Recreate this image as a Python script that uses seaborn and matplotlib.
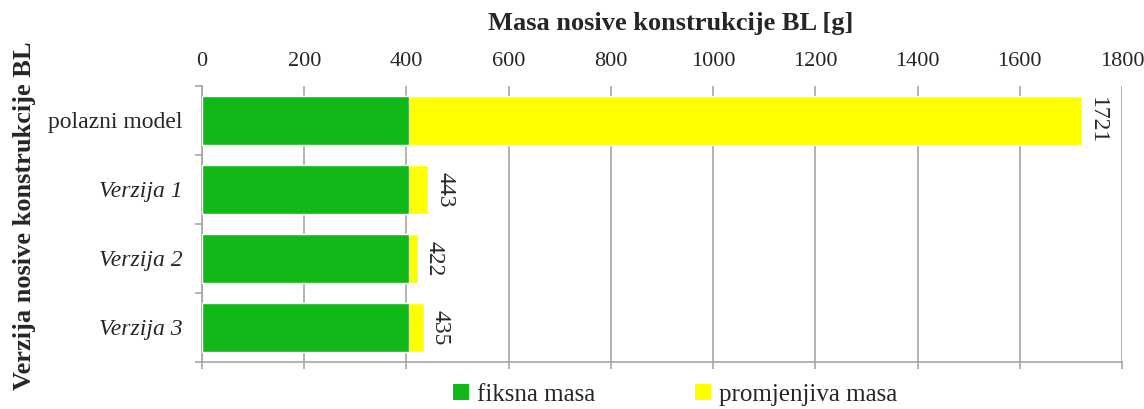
import matplotlib
matplotlib.use("Agg")
import matplotlib.pyplot as plt
import seaborn as sns
import pandas as pd
from matplotlib.patches import Patch
from matplotlib.ticker import FixedLocator

# Mass breakdown of the load-bearing structure per version
versions = ["polazni model", "Verzija 1", "Verzija 2", "Verzija 3"]
fixed_mass = [405, 405, 405, 405]
variable_mass = [1316, 38, 17, 30]
total_mass = [1721, 443, 422, 435]
x_ticks = [0, 200, 400, 600, 800, 1000, 1200, 1400, 1600, 1800]

GREEN = "#10B818"
YELLOW = "#FFFF00"
GRID = "#A6A6A6"

sns.set_theme(style="white")
plt.rcParams["font.family"] = ["Liberation Serif", "DejaVu Serif"]

df = pd.DataFrame({"version": versions, "fixed": fixed_mass,
                   "variable": variable_mass, "total": total_mass})

fig = plt.figure(figsize=(11.44, 4.09), dpi=100)
ax = fig.add_axes([0.1766, 0.115, 0.8042, 0.675])

# stacked bars: total in yellow, fixed part drawn over it in green
sns.barplot(data=df, x="total", y="version", orient="h", color=YELLOW,
            width=0.7, saturation=1, ax=ax, zorder=2)
sns.barplot(data=df, x="fixed", y="version", orient="h", color=GREEN,
            width=0.7, saturation=1, ax=ax, zorder=3)

ax.set_xlim(0, 1800)
ax.set_ylim(3.5, -0.5)
ax.set_xticks(x_ticks)
ax.set_xticklabels([str(t) for t in x_ticks], fontsize=16)
ax.xaxis.grid(True, color=GRID, linewidth=1.2, zorder=0)
ax.yaxis.grid(False)
ax.set_axisbelow(True)

ax.tick_params(axis="x", top=False, bottom=True, labeltop=True,
               labelbottom=False, direction="out", length=5, width=1.2,
               color=GRID, pad=5.5)
ax.xaxis.set_label_position("top")
ax.set_xlabel("Masa nosive konstrukcije BL [g]", fontsize=19,
              fontweight="bold", labelpad=16)
ax.xaxis.label.set_x(0.509)

# category boundaries carry the y tick marks
ax.yaxis.set_minor_locator(FixedLocator([-0.5, 0.5, 1.5, 2.5, 3.5]))
ax.tick_params(axis="y", which="minor", left=True, length=5, width=1.2,
               color=GRID, direction="out")
ax.tick_params(axis="y", which="major", length=0, pad=14)
ax.set_yticks(range(len(versions)))
ax.set_yticklabels(versions, fontsize=17)
for i, lab in enumerate(ax.get_yticklabels()):
    if i > 0:
        lab.set_fontstyle("italic")
ax.set_ylabel("Verzija nosive konstrukcije BL", fontsize=19,
              fontweight="bold")
ax.yaxis.set_label_coords(-0.18, 0.53)

for side in ["top", "right"]:
    ax.spines[side].set_visible(False)
for side in ["left", "bottom"]:
    ax.spines[side].set_color(GRID)
    ax.spines[side].set_linewidth(1.2)

for i, tot in enumerate(total_mass):
    ax.annotate(str(tot), xy=(tot, i), xytext=(4, 0),
                textcoords="offset points", rotation=-90,
                ha="left", va="center", fontsize=17)

handles = [Patch(facecolor=GREEN, edgecolor="none", label="fiksna masa"),
           Patch(facecolor=YELLOW, edgecolor="none", label="promjenjiva masa")]
fig.legend(handles=handles, loc="center", bbox_to_anchor=(0.59, 0.035),
           ncol=2, frameon=False, fontsize=18, handlelength=0.65,
           handleheight=0.65, handletextpad=0.3, columnspacing=4.0)

fig.savefig("out.png", dpi=100)
